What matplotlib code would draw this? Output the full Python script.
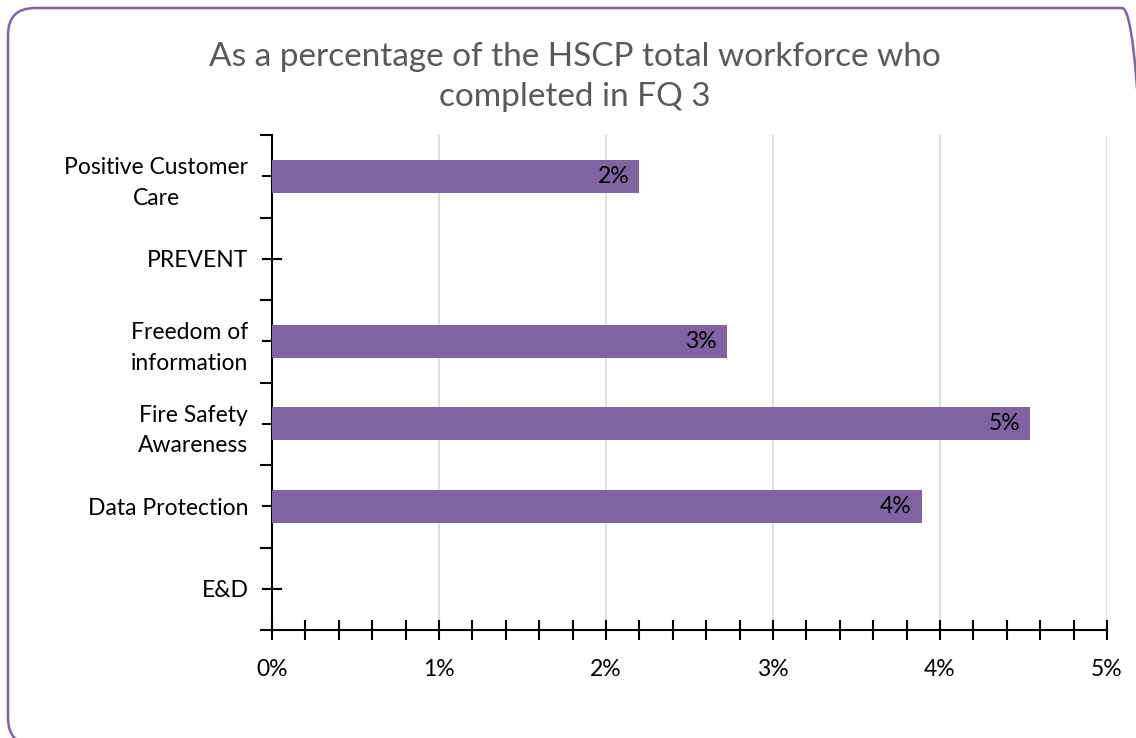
import matplotlib
matplotlib.use("Agg")
import matplotlib.pyplot as plt
from matplotlib.patches import FancyBboxPatch
from matplotlib.transforms import IdentityTransform
from matplotlib.ticker import MultipleLocator, FixedLocator, FuncFormatter, NullFormatter

categories = ["Positive Customer\nCare", "PREVENT", "Freedom of\ninformation",
              "Fire Safety\nAwareness", "Data Protection", "E&D"]
values = [0.0220, 0.0, 0.02725, 0.0454, 0.0389, 0.0]
labels = ["2%", None, "3%", "5%", "4%", None]
title = "As a percentage of the HSCP total workforce who\ncompleted in FQ 3"

purple = "#8064A2"
plt.rcParams['font.family'] = ['Lato', 'DejaVu Sans']

fig = plt.figure(figsize=(11.36, 7.38), dpi=100)
ax = fig.add_axes([272/1136, 1-630/738, (1107-272)/1136, (630-135)/738])

n = len(categories)
ypos = list(range(n))
ax.barh(ypos, values, height=0.4, color=purple, zorder=3)
for y, v, lab in zip(ypos, values, labels):
    if lab:
        ax.text(v - 0.0006, y, lab, ha="right", va="center", fontsize=16.5, color="black", zorder=4)

ax.set_xlim(0, 0.05)
ax.set_ylim(n - 0.5, -0.5)

ax.xaxis.set_major_locator(MultipleLocator(0.01))
ax.xaxis.set_minor_locator(MultipleLocator(0.002))
ax.xaxis.set_major_formatter(FuncFormatter(lambda v, p: f"{v*100:.0f}%"))
ax.tick_params(axis="x", which="both", direction="inout", length=14, width=1.5, labelsize=16.5, pad=14)
ax.grid(axis="x", which="major", color="#D9D9D9", linewidth=1.2, zorder=0)

ax.yaxis.set_major_locator(FixedLocator([i - 0.5 for i in range(n + 1)]))
ax.yaxis.set_major_formatter(NullFormatter())
ax.yaxis.set_minor_locator(FixedLocator(ypos))
ax.yaxis.set_minor_formatter(FuncFormatter(lambda v, p: categories[int(round(v))]))
ax.tick_params(axis="y", which="major", direction="out", length=9, width=1.5)
ax.tick_params(axis="y", which="minor", direction="inout", length=14, width=1.5, labelsize=16.5, pad=10)
for t in ax.yaxis.get_minorticklabels():
    t.set_horizontalalignment("right")
    t.set_multialignment("center")
    t.set_linespacing(1.55)

for s in ["top", "right"]:
    ax.spines[s].set_visible(False)
for s in ["left", "bottom"]:
    ax.spines[s].set_linewidth(1.5)
    ax.spines[s].set_color("black")

fig.text(575/1136, 1-77/738, title, ha="center", va="center", fontsize=24,
         color="#595959", linespacing=1.4)

# rounded chart-area border (extends past right and bottom edges of the image)
border = FancyBboxPatch((8, -7), 1149 - 8, 745 - 8,
                        boxstyle="round,pad=0,rounding_size=27",
                        transform=IdentityTransform(), fill=False,
                        edgecolor=purple, linewidth=1.8)
fig.patches.append(border)

fig.savefig("out.png", dpi=100, facecolor="white")
